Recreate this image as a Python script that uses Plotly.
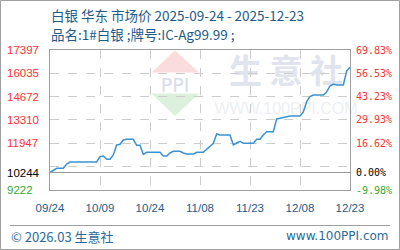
import plotly.graph_objects as go

# ---------------- data ----------------
dates = [
    "2025-09-24", "2025-09-25", "2025-09-26", "2025-09-28", "2025-09-29", "2025-09-30",
    "2025-10-08", "2025-10-09", "2025-10-10", "2025-10-11", "2025-10-12", "2025-10-13",
    "2025-10-14", "2025-10-15", "2025-10-16", "2025-10-17", "2025-10-19", "2025-10-20",
    "2025-10-21", "2025-10-22", "2025-10-23", "2025-10-27", "2025-10-28", "2025-10-29",
    "2025-10-30", "2025-10-31", "2025-11-02", "2025-11-03", "2025-11-04", "2025-11-06",
    "2025-11-07", "2025-11-09", "2025-11-10", "2025-11-12", "2025-11-13", "2025-11-14",
    "2025-11-17", "2025-11-18", "2025-11-19", "2025-11-20", "2025-11-21", "2025-11-24",
    "2025-11-25", "2025-11-26", "2025-11-27", "2025-11-28", "2025-11-30", "2025-12-01",
    "2025-12-02", "2025-12-04", "2025-12-05", "2025-12-08", "2025-12-09", "2025-12-10",
    "2025-12-11", "2025-12-12", "2025-12-15", "2025-12-16", "2025-12-17", "2025-12-18",
    "2025-12-19", "2025-12-21", "2025-12-22", "2025-12-23",
]
prices = [
    10244, 10390, 10489, 10489, 10740, 10857,
    10857, 11167, 11208, 11015, 11015, 11266,
    11850, 11891, 12142, 12183, 12183, 11832,
    11832, 11307, 11424, 11424, 11208, 11208,
    11383, 11482, 11482, 11383, 11325, 11325,
    11424, 11424, 11599, 11949, 12492, 12434,
    12434, 11850, 11966, 12066, 11949, 11949,
    12183, 12183, 12434, 12627, 12627, 13368,
    13409, 13485, 13543, 13543, 13777, 14378,
    14670, 14770, 14770, 14945, 15295, 15412,
    15353, 15353, 16171, 16400,
]
base_price = 10244
y_label_values = [17397, 16035, 14672, 13310, 11947, 10244, 9222]
y_grid_values = [16035, 14672, 13310, 11947, 10584.5]
x_tick_dates = ["2025-09-24", "2025-10-09", "2025-10-24", "2025-11-08",
                "2025-11-23", "2025-12-08", "2025-12-23"]
x_tick_labels = ["09/24", "10/09", "10/24", "11/08", "11/23", "12/08", "12/23"]

title_text = "白银 华东 市场价 2025-09-24 - 2025-12-23"
subtitle_text = "品名:1#白银 ;牌号:IC-Ag99.99 ;"
footer_left = "© 2026.03 生意社"
footer_right = "www.100PPI.com"

# ---------------- layout constants ----------------
W, H = 400, 250
ML, MR, MT, MB = 50, 50, 50, 60
PW, PH = W - ML - MR, H - MT - MB


def px_x(x):
    return (x - ML) / PW


def px_y(y):
    return (H - MB - y) / PH


RED = "#ff3333"
GREEN = "#33aa33"
BLUE_TXT = "#1e5b8a"
LABEL_FONT = "Liberation Sans, Arial, sans-serif"
CJK_FONT = "Noto Sans CJK SC, sans-serif"

fig = go.Figure()
fig.add_trace(go.Scatter(
    x=dates, y=prices, mode="lines",
    line=dict(color="#3b92d2", width=1.5),
    hoverinfo="skip", showlegend=False,
))

annotations = []
# left & right axis labels
for v in y_label_values:
    if v > base_price:
        c = RED
    elif v == base_price:
        c = "#000000"
    else:
        c = GREEN
    pct = (v / base_price - 1) * 100
    annotations.append(dict(
        x=px_x(5), xref="paper", y=v, yref="y", text=str(v), showarrow=False,
        xanchor="left", yanchor="middle",
        font=dict(family=LABEL_FONT, size=11.5, color=c)))
    annotations.append(dict(
        x=px_x(354), xref="paper", y=v, yref="y", text=f"{pct:.2f}%", showarrow=False,
        xanchor="left", yanchor="middle",
        font=dict(family="DejaVu Sans Mono, monospace", size=10, color=c)))

# title / subtitle
annotations.append(dict(
    x=px_x(49), xref="paper", y=px_y(15), yref="paper", text=title_text, showarrow=False,
    xanchor="left", yanchor="middle",
    font=dict(family=CJK_FONT, size=13.5, color=BLUE_TXT)))
annotations.append(dict(
    x=px_x(49), xref="paper", y=px_y(34), yref="paper", text=subtitle_text, showarrow=False,
    xanchor="left", yanchor="middle",
    font=dict(family=CJK_FONT, size=13.5, color=BLUE_TXT)))
# footer
annotations.append(dict(
    x=px_x(9), xref="paper", y=px_y(236), yref="paper", text=footer_left, showarrow=False,
    xanchor="left", yanchor="middle",
    font=dict(family=CJK_FONT, size=13, color="#2a6a9a")))
annotations.append(dict(
    x=px_x(391), xref="paper", y=px_y(236), yref="paper", text=footer_right, showarrow=False,
    xanchor="right", yanchor="middle",
    font=dict(family="DejaVu Sans, sans-serif", size=12, color="#2a6a9a")))

shapes = []
# watermark (below grid)
shapes.append(dict(
    type="path", xref="paper", yref="paper", layer="below",
    path=f"M {px_x(151.5)} {px_y(72.5)} L {px_x(175)} {px_y(50.5)} L {px_x(199)} {px_y(72.5)} Z",
    fillcolor="#fadcdc", line=dict(width=0)))
shapes.append(dict(
    type="path", xref="paper", yref="paper", layer="below",
    path=f"M {px_x(151.5)} {px_y(93.5)} L {px_x(199)} {px_y(93.5)} L {px_x(175)} {px_y(116)} Z",
    fillcolor="#dcf0dd", line=dict(width=0)))
shapes.append(dict(
    type="rect", xref="paper", yref="paper", layer="below",
    x0=px_x(151), x1=px_x(199), y0=px_y(92), y1=px_y(75),
    fillcolor="rgba(0,0,0,0)", line=dict(width=0),
    label=dict(text="PPI", textposition="middle center",
               font=dict(family="DejaVu Sans, sans-serif", size=19, color="#d7deea"))))
shapes.append(dict(
    type="rect", xref="paper", yref="paper", layer="below",
    x0=px_x(222), x1=px_x(350), y0=px_y(92), y1=px_y(55),
    fillcolor="rgba(0,0,0,0)", line=dict(width=0),
    label=dict(text="生 意 社", textposition="middle center",
               font=dict(family=CJK_FONT, size=33, color="#dfe4ee", weight="bold"))))
shapes.append(dict(
    type="rect", xref="paper", yref="paper", layer="below",
    x0=px_x(222), x1=px_x(350), y0=px_y(114), y1=px_y(98),
    fillcolor="rgba(0,0,0,0)", line=dict(width=0),
    label=dict(text="WWW.100PPI.COM", textposition="middle center",
               font=dict(family="Liberation Sans, sans-serif", size=16, color="#eceff3"))))
# baseline
shapes.append(dict(
    type="line", xref="paper", yref="y", x0=0, x1=1, y0=base_price, y1=base_price,
    line=dict(color="#999999", width=1), layer="above"))
# separator and outer border
shapes.append(dict(
    type="line", xref="paper", yref="paper", x0=px_x(10), x1=px_x(390),
    y0=px_y(225.5), y1=px_y(225.5), line=dict(color="#a0a0a0", width=1)))
shapes.append(dict(
    type="rect", xref="paper", yref="paper", x0=px_x(0.5), x1=px_x(399.5),
    y0=px_y(249.5), y1=px_y(0.5), line=dict(color="#a0a0a0", width=1),
    fillcolor="rgba(0,0,0,0)"))

fig.update_layout(
    width=W, height=H,
    margin=dict(l=ML, r=MR, t=MT, b=MB, pad=0),
    paper_bgcolor="white", plot_bgcolor="white",
    showlegend=False,
    annotations=annotations,
    shapes=shapes,
    xaxis=dict(
        type="date", range=[x_tick_dates[0], x_tick_dates[-1]],
        tickmode="array", tickvals=x_tick_dates, ticktext=x_tick_labels,
        showgrid=True, gridcolor="#cccccc", griddash="dash", gridwidth=1,
        showline=True, linecolor="#a0a0a0", linewidth=1, mirror=True,
        ticks="", ticklabelstandoff=7,
        tickfont=dict(family=LABEL_FONT, size=11.5, color=BLUE_TXT),
        zeroline=False, fixedrange=True,
    ),
    yaxis=dict(
        range=[y_label_values[-1], y_label_values[0]],
        tickmode="array", tickvals=y_grid_values, showticklabels=False,
        showgrid=True, gridcolor="#cccccc", griddash="dash", gridwidth=1,
        showline=True, linecolor="#a0a0a0", linewidth=1, mirror=True,
        ticks="", zeroline=False, fixedrange=True,
    ),
)

fig.write_html("out.html", config={"displayModeBar": False})
